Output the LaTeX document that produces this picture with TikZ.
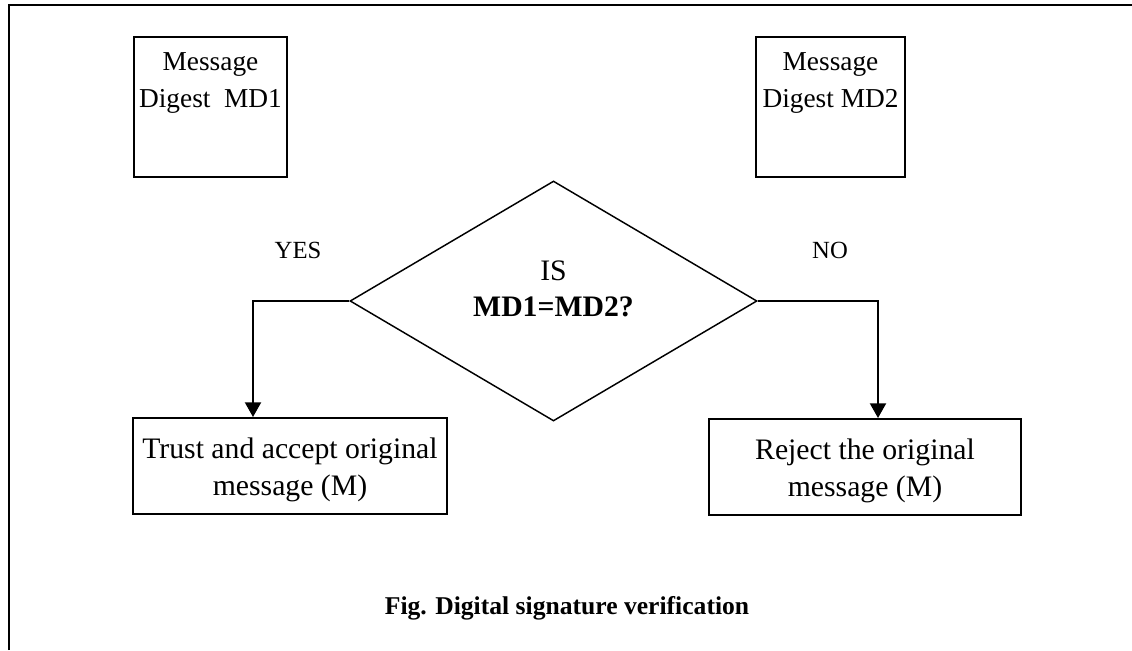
\documentclass[tikz,border=0pt]{standalone}
\usepackage{fontspec}
\setmainfont{Liberation Serif}
\usetikzlibrary{shapes.geometric,arrows.meta}

\begin{document}
\begin{tikzpicture}[x=0.75pt,y=-0.75pt,
  box/.style={draw,line width=1.5pt,inner sep=0pt},
  big/.style={font=\fontsize{22.3}{27.5}\selectfont,align=center},
  mid/.style={font=\fontsize{20.5}{27.5}\selectfont,align=center},
  small/.style={font=\fontsize{18.5}{22}\selectfont},
  arr/.style={line width=1.5pt,-{Triangle[width=12pt,length=11pt]}}]
\useasboundingbox (0,0) rectangle (1132,650);

% outer frame
\draw[line width=1.5pt] (9,650) -- (9,5) -- (1132,5);

% digest boxes
\node[box,minimum width=114.75pt,minimum height=105pt] (md1) at (210.5,107) {};
\node[mid,anchor=north,yshift=-9pt] (md1txt) at (md1.north) {Message\\Digest\ \ MD1};
\node[box,minimum width=111.75pt,minimum height=105pt] (md2) at (830.5,107) {};
\node[mid,anchor=north,yshift=-9pt] (md2txt) at (md2.north) {Message\\Digest MD2};

% decision
\node[draw,diamond,line width=1.1pt,inner sep=0pt,minimum width=305.25pt,
  minimum height=180pt] (check) at (553.5,301) {};
\node[big,yshift=9pt] (checktxt) at (check.center) {IS\\\textbf{MD1=MD2?}};

% outcomes
\node[box,minimum width=235.5pt,minimum height=72pt] (trust) at (290,466) {};
\node[big,yshift=-3pt] (trusttxt) at (trust.center) {Trust and accept original\\message (M)};
\node[box,minimum width=234pt,minimum height=72pt] (reject) at (865,467) {};
\node[big,yshift=-3pt] (rejecttxt) at (reject.center) {Reject the original\\message (M)};

\coordinate (yesturn) at (253,301);
\coordinate (noturn) at (878,301);
\draw[arr] (check.west) -- (yesturn) -- (yesturn |- trust.north);
\draw[arr] (check.east) -- (noturn) -- (noturn |- reject.north);

\node[small] (yes) at (298,250) {YES};
\node[small] (no) at (830,250) {NO};

\node[small,font=\fontsize{19.2}{22}\selectfont\bfseries] (caption) at (567,608)
  {Fig. Digital signature verification};
\end{tikzpicture}
\end{document}
